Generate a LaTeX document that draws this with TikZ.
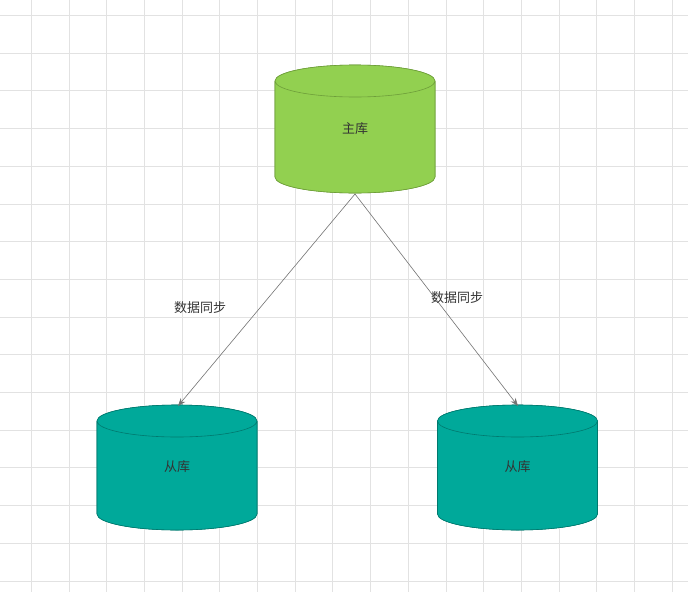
\documentclass[tikz,border=0pt]{standalone}
\usepackage{fontspec}
\setmainfont{Noto Sans CJK SC}
\usetikzlibrary{arrows.meta}
\definecolor{mgreen}{HTML}{92D050}
\definecolor{mgreenD}{HTML}{6E9E3A}
\definecolor{teal}{HTML}{00A99A}
\definecolor{tealD}{HTML}{00796E}
\definecolor{gridc}{HTML}{E2E2E2}
\newcommand{\mycyl}[6]{% cx, top cy, bottom cy, rx, ry, fill/draw, name
  \fill[#6] (#1-#4,-#2) -- (#1-#4,-#3) arc[start angle=180,end angle=360,x radius=#4,y radius=#5] -- (#1+#4,-#2) arc[start angle=0,end angle=180,x radius=#4,y radius=#5];
  \draw[#6] (#1-#4,-#2) -- (#1-#4,-#3) arc[start angle=180,end angle=360,x radius=#4,y radius=#5] -- (#1+#4,-#2) arc[start angle=0,end angle=360,x radius=#4,y radius=#5];
}
\begin{document}
\begin{tikzpicture}[x=1pt,y=1pt,
  lbl/.style={font=\fontsize{13}{15}\selectfont, text=black!80},
  arr/.style={draw=black!55, line width=0.6pt, -{Stealth[length=8pt,width=6pt]}}]
\useasboundingbox (0,0) rectangle (688,-592);
\fill[white] (0,0) rectangle (688,-592);
\foreach \i in {0,...,18} {\draw[gridc,line width=0.6pt] ({31.1+37.7*\i},0) -- ({31.1+37.7*\i},-592);}
\foreach \i in {0,...,15} {\draw[gridc,line width=0.6pt] (0,{-15.3-37.7*\i}) -- (688,{-15.3-37.7*\i});}
\mycyl{355}{81}{177}{80}{16}{fill=mgreen,draw=mgreenD,line width=0.6pt}
\mycyl{177}{421}{514}{80}{16}{fill=teal,draw=tealD,line width=0.6pt}
\mycyl{517.5}{421}{514}{80}{16}{fill=teal,draw=tealD,line width=0.6pt}
\node[lbl] (m) at (355,-129) {主库};
\node[lbl] (s1) at (177,-467) {从库};
\node[lbl] (s2) at (517.5,-467) {从库};
\coordinate (mb) at (355,-194);
\coordinate (s1t) at (178,-406);
\coordinate (s2t) at (518,-406);
\draw[arr] (mb) -- (s1t);
\draw[arr] (mb) -- (s2t);
\node[lbl] (l1) at (200,-308) {数据同步};
\node[lbl] (l2) at (457,-298) {数据同步};
\end{tikzpicture}
\end{document}
